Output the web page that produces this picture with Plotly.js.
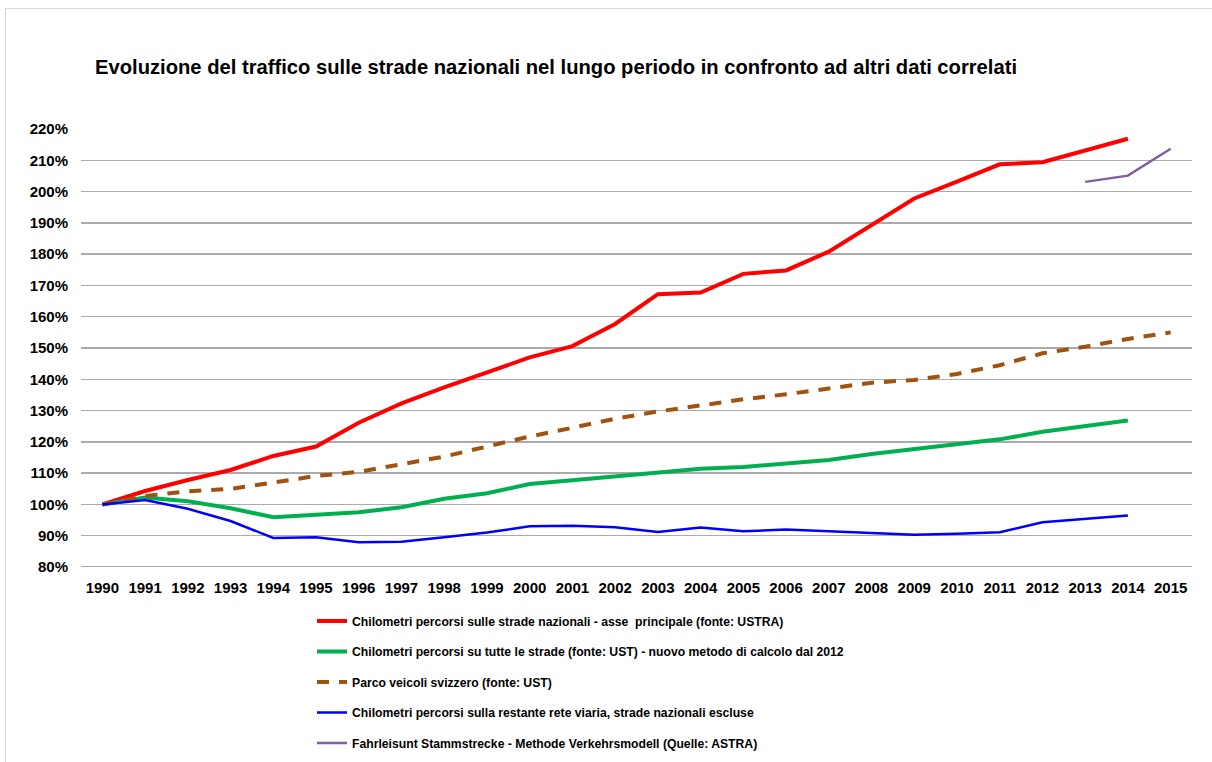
<!DOCTYPE html>
<html>
<head>
<meta charset="utf-8">
<script src="https://cdn.plot.ly/plotly-3.0.1.min.js"></script>
<style>
html,body{margin:0;padding:0;background:#fff;overflow:hidden;width:1212px;height:762px;}
#frame{position:absolute;left:5px;top:8px;width:1300px;height:900px;border-left:1px solid #d9d9d9;border-top:1px solid #d9d9d9;}
#chart{position:absolute;left:0;top:0;width:1212px;height:800px;}
</style>
</head>
<body>
<div id="frame"></div>
<div id="chart"></div>
<script>
const years = ['1990','1991','1992','1993','1994','1995','1996','1997','1998','1999','2000','2001','2002','2003','2004','2005','2006','2007','2008','2009','2010','2011','2012','2013','2014','2015'];

const nationalRoads = [100,104.3,107.8,111,115.5,118.5,126.1,132.3,137.4,142.3,147,150.6,157.7,167.2,167.7,173.7,174.8,180.8,189.3,197.8,203.2,208.7,209.4,213,216.9,null];
const allRoads = [100,102.2,101,98.8,95.9,96.7,97.5,99.1,101.8,103.6,106.5,107.7,108.9,110.2,111.4,112,113,114.2,116.1,117.6,119.1,120.8,123.2,124.9,126.8,null];
const vehicleFleet = [100,102.7,104.2,105,107,109.1,110.4,112.9,115.3,118.5,121.7,124.5,127.4,129.7,131.7,133.6,135.2,137,138.9,139.8,141.7,144.5,148.3,150.4,152.9,155];
const otherRoads = [100,101.4,98.6,94.7,89.3,89.5,87.9,88.1,89.5,91,93,93.2,92.7,91.2,92.6,91.4,92,91.5,91,90.3,90.6,91.1,94.3,95.5,96.5,null];
const trafficModel = [null,null,null,null,null,null,null,null,null,null,null,null,null,null,null,null,null,null,null,null,null,null,null,203.1,205.1,213.7];

const names = [
  'Chilometri percorsi sulle strade nazionali - asse&nbsp; principale (fonte: USTRA)',
  'Chilometri percorsi su tutte le strade (fonte: UST) - nuovo metodo di calcolo dal 2012',
  'Parco veicoli svizzero (fonte: UST)',
  'Chilometri percorsi sulla restante rete viaria, strade nazionali escluse',
  'Fahrleisunt Stammstrecke - Methode Verkehrsmodell (Quelle: ASTRA)'
];
const yTicks = [80,90,100,110,120,130,140,150,160,170,180,190,200,210,220];
const yTickText = yTicks.map(v => v + '%');

function tr(y, name, color, width, dash, g){
  return {x: years, y: y, name: name, type: 'scatter', mode: 'lines',
    line: {color: color, width: width, dash: dash || 'solid'},
    legendgroup: g, connectgaps: false, hoverinfo: 'x+y'};
}

const data = [
  tr(nationalRoads, names[0], '#FF0000', 4, 'solid', 'a'),
  tr(allRoads, names[1], '#00B050', 4, 'solid', 'b'),
  tr(vehicleFleet, names[2], '#A0520F', 4, '12px,10px', 'c'),
  tr(otherRoads, names[3], '#0000FF', 2.5, 'solid', 'd'),
  tr(trafficModel, names[4], '#7F5F9F', 2.5, 'solid', 'e')
];

const H = 800;
const F = 'Liberation Sans, Arial, sans-serif';
const layout = {
  width: 1212, height: H,
  paper_bgcolor: 'rgba(0,0,0,0)', plot_bgcolor: 'rgba(0,0,0,0)',
  margin: {l: 81, r: 20, t: 129, b: H - 567},
  title: {text: 'Evoluzione del traffico sulle strade nazionali nel lungo periodo in confronto ad altri dati correlati',
    x: 95/1212, xref: 'container', xanchor: 'left', y: 1-67/H, yref: 'container', yanchor: 'middle',
    font: {family: F, size: 20.2, color: '#000', weight: 700}},
  xaxis: {type: 'category', range: [-0.5, 25.5], tickfont: {family: F, size: 15, color: '#000', weight: 700},
    showgrid: false, showline: false, zeroline: false, ticks: '', ticklen: 0, automargin: false, ticklabelstandoff: 10},
  yaxis: {range: [80, 220], tickvals: yTicks, ticktext: yTickText, showgrid: true,
    gridcolor: '#ABABAB', gridwidth: 1.3, zeroline: false, showline: false, ticks: '',
    tickfont: {family: F, size: 15, color: '#000', weight: 700}, ticklabelstandoff: 12, automargin: false},
  showlegend: true,
  legend: {x: (312-81)/1111, y: -0.09, xanchor: 'left', yanchor: 'top', orientation: 'v',
    font: {family: F, size: 12.2, color: '#000', weight: 700}, tracegroupgap: 11.5,
    bgcolor: 'rgba(0,0,0,0)', itemwidth: 30, traceorder: 'grouped'},
  shapes: [{type: 'line', xref: 'paper', yref: 'y', x0: 0, x1: 1, y0: 80, y1: 80, line: {color: '#8C8C8C', width: 1.5}}]
};

Plotly.newPlot('chart', data, layout, {displayModeBar: false, staticPlot: true});
</script>
</body>
</html>
